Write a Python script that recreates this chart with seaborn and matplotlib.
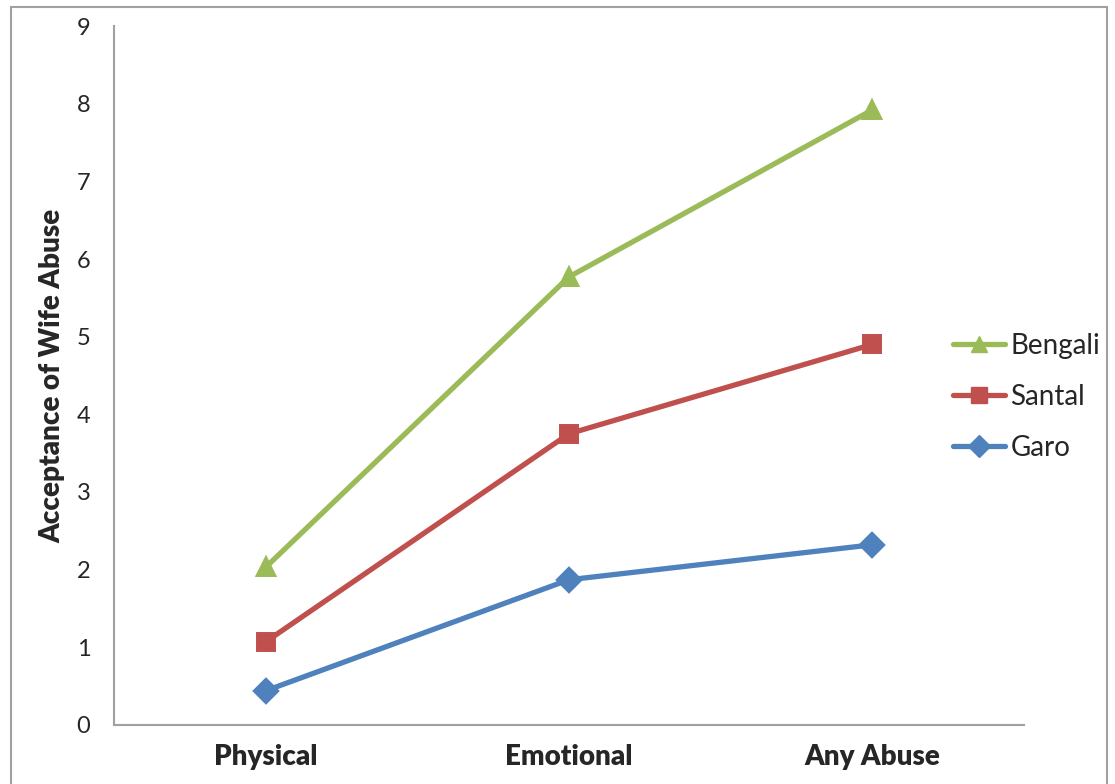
import pandas as pd
import numpy as np
import matplotlib
matplotlib.use("Agg")
import matplotlib.pyplot as plt
import matplotlib.patches as patches
from matplotlib.lines import Line2D
import seaborn as sns

abuse_types = ['Physical', 'Emotional', 'Any Abuse']
groups = ['Bengali', 'Santal', 'Garo']
bengali = [2.03, 5.77, 7.92]
santal = [1.07, 3.75, 4.90]
garo = [0.44, 1.87, 2.32]

colors = {'Bengali': '#9BBB59', 'Santal': '#C0504D', 'Garo': '#4F81BD'}
marker_map = {'Bengali': '^', 'Santal': 's', 'Garo': 'D'}

rows = []
for g, vals in zip(groups, [bengali, santal, garo]):
    for t, v in zip(abuse_types, vals):
        rows.append({'type': t, 'group': g, 'value': v})
df = pd.DataFrame(rows)

sns.set_style("white")
plt.rcParams['font.family'] = ['Lato', 'DejaVu Sans']

fig = plt.figure(figsize=(11.15, 7.84), dpi=100)
ax = fig.add_axes([0.1022, 0.0753, 0.8162, 0.8915])

sns.pointplot(data=df, x='type', y='value', hue='group', order=abuse_types,
              hue_order=groups, palette=colors,
              markers=[marker_map[g] for g in groups], linestyles='-',
              markersize=11.5, linewidth=3.8, ax=ax, legend=False)

ax.set_xlim(-0.5, 2.5)
ax.set_ylim(0, 9)
ax.set_yticks(range(10))
ax.set_xlabel('')
ax.set_ylabel('Acceptance of Wife Abuse', fontsize=20, fontweight=800, labelpad=8)
ax.tick_params(axis='y', length=0, pad=17, labelsize=17)
ax.tick_params(axis='x', length=0, pad=14, labelsize=20)
for lbl in ax.get_xticklabels():
    lbl.set_fontweight(800)

for s in ['top', 'right']:
    ax.spines[s].set_visible(False)
for s in ['left', 'bottom']:
    ax.spines[s].set_color('#A0A0A0')
    ax.spines[s].set_linewidth(1.5)

handles = [Line2D([0], [0], color=colors[g], marker=marker_map[g], lw=3.8,
                  markersize=11.5) for g in groups]
fig.legend(handles, groups, loc='center left', bbox_to_anchor=(0.842, 0.494),
           frameon=False, fontsize=20, handlelength=1.9, handletextpad=0.18,
           labelspacing=0.9, borderpad=0)

# outer chart frame
frame = patches.Rectangle((11 / 1115, -0.05), 1096 / 1115, 1.05 - 7 / 784,
                          transform=fig.transFigure, fill=False,
                          edgecolor='#A0A0A0', linewidth=1.5, clip_on=False)
fig.patches.append(frame)

fig.savefig('out.png', dpi=100)
